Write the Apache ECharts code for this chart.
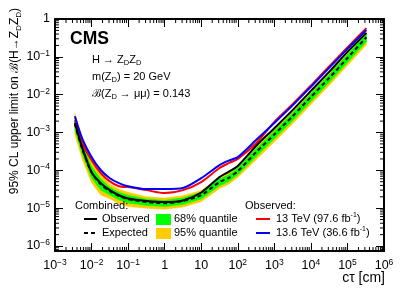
<!DOCTYPE html>
<html><head><meta charset="utf-8">
<script src="https://cdn.jsdelivr.net/npm/echarts@6/dist/echarts.min.js"></script>
<style>html,body{margin:0;padding:0;background:#fff}#c{width:402px;height:289px}</style>
</head><body><div id="c"></div>
<script>
// c tau [cm]
const ctau = [0.0035, 0.0056, 0.01, 0.0178, 0.0316, 0.0562, 0.1, 0.316, 1, 3.16, 10, 31.6, 56.2, 100, 316, 1000, 3160, 1e4, 3.16e4, 1e5, 3.3e5];
const obsCombined = [1.78e-3, 3.9e-4, 8.9e-5, 4.6e-5, 3.0e-5, 2.2e-5, 1.8e-5, 1.55e-5, 1.45e-5, 1.6e-5, 2.6e-5, 6.6e-5, 9.1e-5, 1.3e-4, 4.4e-4, 1.3e-3, 3.9e-3, 1.26e-2, 4.0e-2, 0.135, 0.43];
const expected = [1.66e-3, 3.6e-4, 8.9e-5, 4.3e-5, 2.8e-5, 2.1e-5, 1.74e-5, 1.45e-5, 1.35e-5, 1.55e-5, 2.2e-5, 4.9e-5, 6.3e-5, 9.5e-5, 3.0e-4, 8.9e-4, 2.7e-3, 8.7e-3, 2.75e-2, 9.3e-2, 0.33];
const obs13TeV = [2.1e-3, 5.2e-4, 1.86e-4, 8.5e-5, 5.1e-5, 3.8e-5, 3.6e-5, 3.0e-5, 2.5e-5, 3.0e-5, 4.9e-5, 1.15e-4, 1.55e-4, 2.0e-4, 5.2e-4, 1.9e-3, 5.6e-3, 1.74e-2, 5.6e-2, 0.178, 0.575];
const obs136TeV = [2.7e-3, 6.8e-4, 2.24e-4, 1.02e-4, 6.2e-5, 4.6e-5, 3.8e-5, 3.2e-5, 3.2e-5, 3.4e-5, 6.2e-5, 1.38e-4, 1.8e-4, 2.24e-4, 6.3e-4, 1.78e-3, 5.2e-3, 1.62e-2, 5.1e-2, 0.162, 0.51];
const up95 = [3.16e-3, 6.9e-4, 1.7e-4, 8.1e-5, 4.3e-5, 3.16e-5, 2.63e-5, 2.0e-5, 1.86e-5, 2.14e-5, 2.95e-5, 6.6e-5, 8.5e-5, 1.29e-4, 4.1e-4, 1.2e-3, 3.6e-3, 1.17e-2, 3.7e-2, 0.126, 0.447];
const up68 = [2.34e-3, 5.1e-4, 1.26e-4, 6.0e-5, 3.55e-5, 2.63e-5, 2.19e-5, 1.74e-5, 1.62e-5, 1.86e-5, 2.63e-5, 5.9e-5, 7.6e-5, 1.15e-4, 3.7e-4, 1.1e-3, 3.3e-3, 1.07e-2, 3.4e-2, 0.115, 0.41];
const lo68 = [1.17e-3, 2.57e-4, 6.3e-5, 3.0e-5, 2.24e-5, 1.66e-5, 1.38e-5, 1.17e-5, 1.1e-5, 1.26e-5, 1.74e-5, 3.9e-5, 5.0e-5, 7.6e-5, 2.3e-4, 6.8e-4, 2.04e-3, 6.6e-3, 2.1e-2, 7.1e-2, 0.251];
const lo95 = [8.7e-4, 1.9e-4, 4.7e-5, 2.24e-5, 1.78e-5, 1.32e-5, 1.1e-5, 1.0e-5, 9.3e-6, 1.07e-5, 1.48e-5, 3.3e-5, 4.3e-5, 6.5e-5, 1.9e-4, 5.6e-4, 1.7e-3, 5.5e-3, 1.74e-2, 5.9e-2, 0.209];

const X_MIN = 1e-3, X_MAX = 1e6, Y_MIN = 7.38e-7, Y_MAX = 1;
const FONT = 'Liberation Sans';

const chart = echarts.init(document.getElementById('c'), null, {renderer: 'canvas'});

function pair(arr) { return ctau.map((x, i) => [x, arr[i]]); }

function band(upper, lower, color, z) {
  return {
    type: 'custom', xAxisIndex: 0, yAxisIndex: 0, z: z, silent: true, clip: true,
    data: [[ctau[0], upper[0]]],
    renderItem: function (params, api) {
      const pts = [];
      for (let i = 0; i < ctau.length; i++) pts.push(api.coord([ctau[i], upper[i]]));
      for (let i = ctau.length - 1; i >= 0; i--) pts.push(api.coord([ctau[i], lower[i]]));
      return {type: 'polygon', shape: {points: pts, smooth: 0}, style: {fill: color, stroke: color, lineWidth: 0.5}};
    }
  };
}

const xMinor = [];
for (let e = -3; e < 6; e++) for (let k = 2; k <= 9; k++) xMinor.push([k * Math.pow(10, e), 1e-3]);
const yMinor = [];
for (let e = -7; e < 0; e++) for (let k = 2; k <= 9; k++) { const v = k * Math.pow(10, e); if (v > Y_MIN && v < Y_MAX) yMinor.push([1, v]); }

function minorX() {
  return {
    type: 'custom', xAxisIndex: 0, yAxisIndex: 0, z: 20, silent: true, clip: false, data: xMinor,
    renderItem: function (params, api) {
      const cs = params.coordSys;
      const p = api.coord([api.value(0), 1e-3]);
      const b = cs.y + cs.height, t = cs.y;
      return {type: 'group', children: [
        {type: 'line', shape: {x1: p[0], y1: b, x2: p[0], y2: b - 4}, style: {stroke: '#000', lineWidth: 1}},
        {type: 'line', shape: {x1: p[0], y1: t, x2: p[0], y2: t + 4}, style: {stroke: '#000', lineWidth: 1}}
      ]};
    }
  };
}
function minorY() {
  return {
    type: 'custom', xAxisIndex: 0, yAxisIndex: 0, z: 20, silent: true, clip: false, data: yMinor,
    renderItem: function (params, api) {
      const cs = params.coordSys;
      const p = api.coord([1, api.value(1)]);
      const l = cs.x, r = cs.x + cs.width;
      return {type: 'group', children: [
        {type: 'line', shape: {x1: l, y1: p[1], x2: l + 4, y2: p[1]}, style: {stroke: '#000', lineWidth: 1}},
        {type: 'line', shape: {x1: r, y1: p[1], x2: r - 4, y2: p[1]}, style: {stroke: '#000', lineWidth: 1}}
      ]};
    }
  };
}

function powLabel(v) {
  const lg = Math.log10(v), e = Math.round(lg);
  if (Math.abs(lg - e) > 1e-6) return '';
  if (e === 0) return '{b|1}';
  if (e === 1) return '{b|10}';
  return '{b|10}{s|' + (e < 0 ? '\u2212' + (-e) : e) + '}';
}
const labelRich = {
  b: {fontSize: 12.5, fontFamily: FONT, color: '#000', lineHeight: 16},
  s: {fontSize: 8.5, fontFamily: FONT, color: '#000', lineHeight: 8, verticalAlign: 'top'}
};

function axisCommon(extra) {
  return Object.assign({
    type: 'log', logBase: 10,
    axisLine: {show: true, onZero: false, lineStyle: {color: '#000', width: 2}},
    axisTick: {show: true, inside: true, length: 8, lineStyle: {color: '#000', width: 1}},
    splitLine: {show: false}, minorTick: {show: false}, minorSplitLine: {show: false}
  }, extra);
}

const lineSeries = (arr, color, dash, z) => ({
  type: 'line', xAxisIndex: 0, yAxisIndex: 0, data: pair(arr), showSymbol: false, symbol: 'none',
  smooth: 0.25, z: z, silent: true,
  lineStyle: {color: color, width: 2, type: dash ? [4, 3] : 'solid'}
});

const sub = {fontSize: 7.5, fontFamily: FONT, fill: '#000', lineHeight: 6, verticalAlign: 'bottom'};
const sup = {fontSize: 7, fontFamily: FONT, fill: '#000', lineHeight: 6, verticalAlign: 'top'};
const n10 = {fontSize: 11, fontFamily: FONT, fill: '#000', lineHeight: 14};
const n11 = {fontSize: 11, fontFamily: FONT, fill: '#000', lineHeight: 14};

function txt(x, y, text, rich, extra) {
  return Object.assign({type: 'text', x: x, y: y, z: 100, silent: true,
    style: {text: text, rich: rich, align: 'left', verticalAlign: 'middle', textAlign: 'left', textVerticalAlign: 'middle'}}, extra || {});
}

const yTitle = '{n|95% CL upper limit on \u212C(H\u2192Z}{s|D}{n|Z}{s|D}{n|)}';
const yTitleRich = {n: {fontSize: 12, fontFamily: FONT, fill: '#000', lineHeight: 16}, s: {fontSize: 8, fontFamily: FONT, fill: '#000', lineHeight: 6, verticalAlign: 'bottom'}};

const option = {
  animation: false,
  backgroundColor: '#fff',
  grid: {left: 55, right: 18, top: 19, bottom: 38, containLabel: false},
  xAxis: [
    axisCommon({position: 'bottom', min: X_MIN, max: X_MAX, splitNumber: 9,
      axisLabel: {show: true, margin: 7, formatter: powLabel, rich: labelRich, showMinLabel: true, showMaxLabel: true}}),
    axisCommon({position: 'top', min: X_MIN, max: X_MAX, splitNumber: 9, axisLabel: {show: false}})
  ],
  yAxis: [
    axisCommon({position: 'left', min: Y_MIN, max: Y_MAX, splitNumber: 6,
      axisLabel: {show: true, margin: 5, formatter: powLabel, rich: labelRich, showMinLabel: false}}),
    axisCommon({position: 'right', min: Y_MIN, max: Y_MAX, splitNumber: 6, axisLabel: {show: false}})
  ],
  series: [
    band(up95, lo95, '#ffcc00', 1),
    band(up68, lo68, '#00ff00', 2),
    lineSeries(expected, '#000', true, 5),
    lineSeries(obs13TeV, '#ff0000', false, 6),
    lineSeries(obs136TeV, '#0000ff', false, 7),
    lineSeries(obsCombined, '#000', false, 8),
    minorX(), minorY()
  ],
  graphic: [
    txt(70, 39, '{c|CMS}', {c: {fontSize: 17.5, fontWeight: 'bold', fontFamily: FONT, fill: '#000'}}),
    txt(92, 60, '{n|H \u2192 Z}{s|D}{n|Z}{s|D}', {n: n10, s: sub}),
    txt(92, 77, '{n|m(Z}{s|D}{n|) = 20 GeV}', {n: n10, s: sub}),
    txt(92, 94, '{n|\u212C(Z}{s|D}{n| \u2192 \u03BC\u03BC) = 0.143}', {n: n10, s: sub}),
    // y-axis title
    {type: 'text', x: 15, y: 8, z: 100, silent: true, rotation: Math.PI / 2,
      style: {text: yTitle, rich: yTitleRich, align: 'right', verticalAlign: 'middle', textAlign: 'right', textVerticalAlign: 'middle'}},
    // x-axis title
    {type: 'text', x: 385, y: 278, z: 100, silent: true,
      style: {text: '{n|c\u03C4 [cm]}', rich: {n: {fontSize: 14, fontFamily: FONT, fill: '#000'}}, align: 'right', verticalAlign: 'middle', textAlign: 'right', textVerticalAlign: 'middle'}},
    // legend
    txt(75, 206, '{n|Combined:}', {n: n11}),
    {type: 'line', z: 100, shape: {x1: 84, y1: 219, x2: 97, y2: 219}, style: {stroke: '#000', lineWidth: 2}},
    txt(102, 219, '{n|Observed}', {n: n11}),
    {type: 'line', z: 100, shape: {x1: 84, y1: 233, x2: 97, y2: 233}, style: {stroke: '#000', lineWidth: 2, lineDash: [4, 3]}},
    txt(102, 233, '{n|Expected}', {n: n11}),
    {type: 'rect', z: 100, shape: {x: 156, y: 214, width: 15, height: 11}, style: {fill: '#00ff00'}},
    txt(174, 219, '{n|68% quantile}', {n: n11}),
    {type: 'rect', z: 100, shape: {x: 156, y: 228, width: 15, height: 11}, style: {fill: '#ffcc00'}},
    txt(174, 233, '{n|95% quantile}', {n: n11}),
    txt(245, 206, '{n|Observed:}', {n: n11}),
    {type: 'line', z: 100, shape: {x1: 256, y1: 219, x2: 270, y2: 219}, style: {stroke: '#ff0000', lineWidth: 2}},
    txt(276, 219, '{n|13 TeV (97.6 fb}{p|-1}{n|)}', {n: n11, p: sup}),
    {type: 'line', z: 100, shape: {x1: 256, y1: 233, x2: 270, y2: 233}, style: {stroke: '#0000ff', lineWidth: 2}},
    txt(276, 233, '{n|13.6 TeV (36.6 fb}{p|-1}{n|)}', {n: n11, p: sup})
  ]
};
chart.setOption(option);
</script></body></html>
